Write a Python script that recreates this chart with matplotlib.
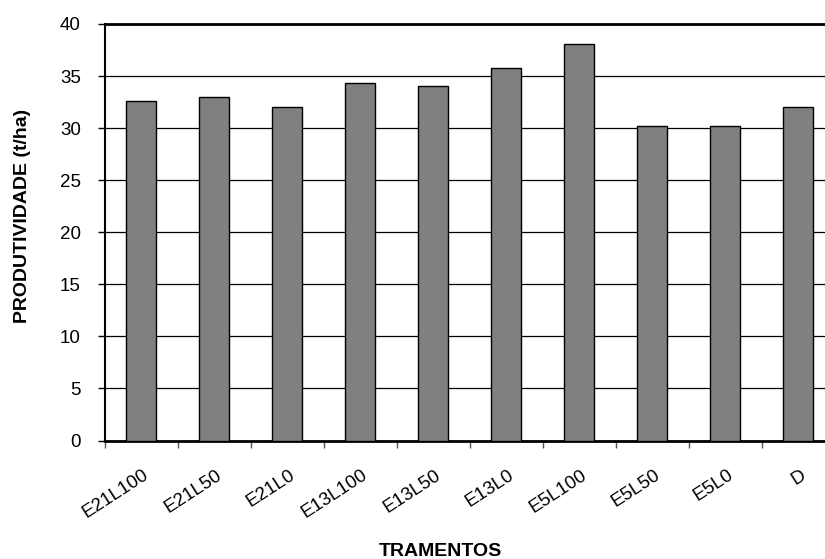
import matplotlib
matplotlib.use("Agg")
import matplotlib.pyplot as plt
import numpy as np

categories = ["E21L100", "E21L50", "E21L0", "E13L100", "E13L50",
              "E13L0", "E5L100", "E5L50", "E5L0", "D"]
values = [32.6, 32.95, 32.05, 34.3, 34.0, 35.8, 38.05, 30.2, 30.2, 32.05]
yticks = [0, 5, 10, 15, 20, 25, 30, 35, 40]

plt.rcParams['font.family'] = ['Liberation Sans', 'DejaVu Sans']

fig = plt.figure(figsize=(8.25, 5.59), dpi=100)
W, H = 825, 559
left, right, top, bottom = 104.5, 835, 24, 440.5
ax = fig.add_axes([left / W, 1 - bottom / H, (right - left) / W, (bottom - top) / H])

x = np.arange(len(categories))
ax.bar(x, values, width=0.41, color="#808080", edgecolor="black", linewidth=1.0, zorder=3)

ax.set_xlim(-0.5, len(categories) - 0.5)
ax.set_ylim(0, 40)
ax.set_yticks(yticks)
ax.set_yticklabels([str(v) for v in yticks], fontsize=13.5)
ax.yaxis.grid(True, color="black", linewidth=0.9, zorder=0)
ax.set_axisbelow(True)

# x ticks between categories
ax.set_xticks(np.arange(-0.5, len(categories) + 0.5, 1.0))
ax.set_xticklabels([])
ax.tick_params(axis='x', direction='out', length=5, width=1, color='#555555')
ax.tick_params(axis='y', direction='out', length=5, width=1, pad=12)
for xi, lab in zip(x, categories):
    ax.text(xi + 0.02, -2.5, lab, rotation=33, ha='right', va='top',
            rotation_mode='anchor', fontsize=13.5)

ax.spines['right'].set_visible(False)
ax.spines['top'].set_linewidth(2.0)
ax.spines['left'].set_linewidth(1.5)
ax.spines['bottom'].set_linewidth(2.0)

fig.text(440 / W, 1 - 552 / H, "TRAMENTOS", ha='center', va='center',
         fontsize=14, fontweight='bold')
fig.text(22.5 / W, 1 - 215.5 / H, "PRODUTIVIDADE (t/ha)", ha='center', va='center',
         rotation=90, fontsize=14, fontweight='bold')

fig.savefig("out.png", dpi=100)
